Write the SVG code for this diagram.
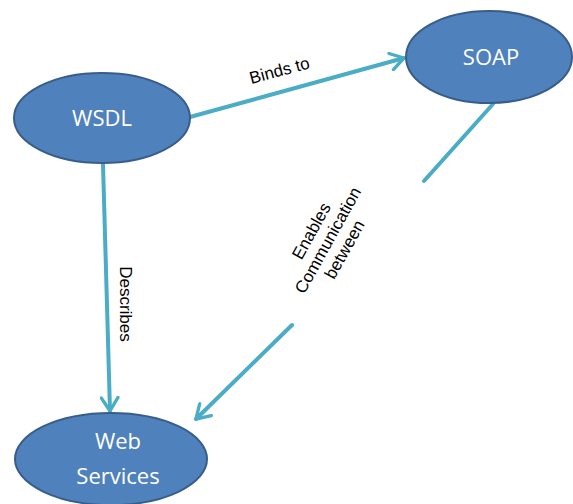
<svg xmlns="http://www.w3.org/2000/svg" width="573" height="504" viewBox="0 0 573 504">
  <style>
    .node ellipse { fill: #4f81bd; stroke: #385d8a; stroke-width: 2; }
    .node text { fill: #ffffff; font-family: "Open Sans", "Liberation Sans", sans-serif; font-size: 22px; text-anchor: middle; }
    .edge { fill: none; stroke: #4bacc6; stroke-width: 4; stroke-linecap: round; }
    .label { fill: #000000; font-family: "Liberation Sans", Arial, sans-serif; font-size: 17px; text-anchor: middle; }
  </style>
  <defs>
    <marker id="arrow" viewBox="0 0 12 12" refX="10" refY="6" markerWidth="5" markerHeight="5" markerUnits="strokeWidth" orient="auto">
      <path d="M2,1 L10,6 L2,11" fill="none" stroke="#4bacc6" stroke-width="2" stroke-linecap="round" stroke-linejoin="round"/>
    </marker>
  </defs>

  <g id="connectors">
    <!-- WSDL binds to SOAP -->
    <line class="edge" x1="190" y1="117" x2="404" y2="58" marker-end="url(#arrow)"/>
    <!-- WSDL describes Web Services -->
    <line class="edge" x1="103" y1="164" x2="110" y2="411" marker-end="url(#arrow)"/>
    <!-- SOAP to Web Services, broken around its label -->
    <line class="edge" x1="493" y1="104" x2="424" y2="181"/>
    <line class="edge" x1="292" y1="325" x2="196" y2="419" marker-end="url(#arrow)"/>

    <text class="label" transform="translate(281,76) rotate(-15)">Binds to</text>
    <text class="label" transform="translate(120,304) rotate(90)">Describes</text>
    <g transform="translate(333,243) rotate(-61)">
      <text class="label" x="0" y="-19">Enables</text>
      <text class="label" x="0" y="0">Communication</text>
      <text class="label" x="0" y="19">between</text>
    </g>
  </g>

  <g id="node-wsdl" class="node">
    <ellipse cx="102" cy="118" rx="88" ry="45"/>
    <text x="102" y="126">WSDL</text>
  </g>

  <g id="node-soap" class="node">
    <ellipse cx="489" cy="57" rx="83" ry="46"/>
    <text x="491" y="65">SOAP</text>
  </g>

  <g id="node-web-services" class="node">
    <ellipse cx="111" cy="459" rx="96" ry="46"/>
    <text x="118" y="449" font-size="23">Web</text>
    <text x="118" y="484" font-size="23">Services</text>
  </g>
</svg>
